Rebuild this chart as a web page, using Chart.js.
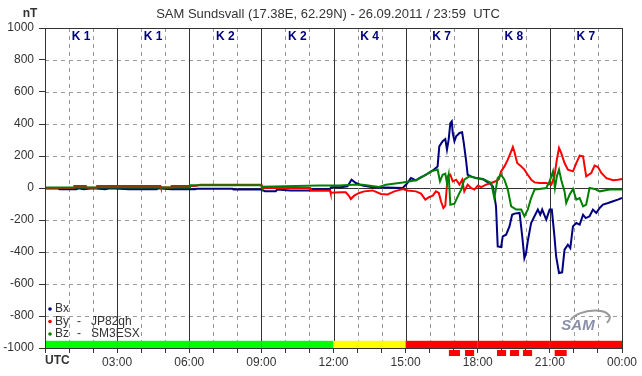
<!DOCTYPE html>
<html lang="en">
<head>
<meta charset="UTF-8"/>
<title>SAM Sundsvall – 26.09.2011</title>
<script src="https://cdn.jsdelivr.net/npm/chart.js@4"></script>
<style>
  body{margin:0;padding:0;background:#fff;}
  #wrap{width:642px;height:376px;}
</style>
</head>
<body>
<div id="wrap"><canvas id="magChart" width="642" height="376"></canvas></div>
<script>
  // time in hours UTC, values in nT
  const bxT=[0,0.55,0.6,1.3,1.4,1.6,2.0,2.5,2.7,3.5,4.65,4.7,5.25,6.25,6.3,7.8,7.85,9.0,9.15,9.6,9.65,10.2,11.0,11.05,11.85,11.9,12.3,12.58,12.75,12.93,13.21,13.63,14.18,14.88,15.04,15.22,15.43,15.57,15.85,16.13,16.33,16.4,16.54,16.65,16.72,16.79,16.86,16.92,16.96,17.03,17.1,17.17,17.24,17.35,17.42,17.51,17.58,17.72,17.93,18.21,18.35,18.49,18.63,18.76,18.83,18.97,19.04,19.18,19.32,19.43,19.53,19.74,19.85,19.94,20.01,20.08,20.22,20.36,20.5,20.6,20.68,20.85,20.99,21.08,21.19,21.26,21.38,21.51,21.61,21.75,21.85,21.96,22.1,22.24,22.38,22.49,22.65,22.79,22.93,23.07,23.21,23.42,23.63,23.83,24];
  const bxV=[-3,-3,-8,-8,-2,-8,-2,-8,-2,-8,-8,-2,-8,-8,-5,-5,-10,-10,-20,-20,-10,-15,-15,-8,-8,5,5,10,52,31,15,5,3,0,25,62,48,62,83,110,135,260,292,306,240,302,406,417,344,292,323,333,344,348,281,177,83,73,62,56,42,31,10,-115,-365,-369,-302,-292,-240,-167,-160,-156,-302,-438,-406,-333,-219,-177,-135,-167,-135,-198,-135,-135,-302,-427,-531,-527,-385,-354,-375,-240,-219,-229,-167,-188,-177,-135,-156,-125,-104,-94,-83,-73,-62];

  const byT=[0,1.2,1.22,1.7,1.72,2.15,2.17,4.8,4.82,5.25,5.27,6.25,6.45,9.0,9.02,11.03,11.05,11.86,11.88,12.3,12.51,12.65,12.72,12.86,13.07,13.28,13.63,13.97,14.25,14.53,14.88,15.08,15.43,15.64,15.82,15.99,16.13,16.26,16.38,16.47,16.57,16.65,16.75,16.86,16.96,17.1,17.24,17.35,17.44,17.58,17.72,17.86,18.0,18.14,18.35,18.56,18.74,18.88,18.97,19.11,19.25,19.39,19.46,19.53,19.64,19.81,19.94,20.08,20.22,20.36,20.57,20.85,21.06,21.19,21.29,21.38,21.47,21.61,21.75,21.96,22.1,22.24,22.38,22.51,22.72,22.86,23.0,23.14,23.35,23.63,23.83,24];
  const byV=[0,0,12,12,2,2,12,12,3,3,12,12,20,20,0,0,-17,-17,-30,-27,-27,-50,-69,-48,-31,-21,-15,-37,-40,-21,-6,-15,-21,-35,-73,-56,-48,-21,-31,-83,-125,-110,73,83,42,52,21,52,-21,21,0,-10,15,6,21,31,42,56,104,135,177,229,256,223,156,135,115,83,52,35,31,31,21,73,177,250,219,156,115,104,156,202,198,73,94,140,131,94,62,48,52,56];

  const bzT=[0,6.0,6.03,9.0,9.02,11.4,12.24,12.79,13.21,13.9,14.18,14.88,15.43,15.78,16.06,16.33,16.43,16.54,16.65,16.72,16.79,16.86,17.03,17.17,17.31,17.44,17.65,17.93,18.28,18.56,18.69,18.83,18.97,19.11,19.25,19.39,19.6,19.81,19.94,20.08,20.22,20.36,20.57,20.85,20.99,21.13,21.21,21.29,21.38,21.47,21.61,21.68,21.82,21.96,22.1,22.24,22.38,22.51,22.65,22.86,23.07,23.49,24];
  const bzV=[3,3,17,17,8,15,15,21,21,6,21,35,48,77,104,115,42,83,90,31,83,-104,-98,-52,-10,52,73,62,52,31,-63,62,83,52,-10,-115,-135,-135,-177,-135,-63,-10,-6,0,42,104,0,73,115,52,-21,-94,-42,-6,-73,-63,-115,-104,0,-6,-21,-10,-10];

  // K index per 3-hour block, alert periods (hours)
  const kIndex=[1,1,2,2,4,7,8,7];
  const alertFrom=[16.8,17.47,18.8,19.34,19.88,21.2];
  const alertTo=[17.26,17.85,19.18,19.72,20.26,21.7];

  const xLabels={0:'UTC',3:'03:00',6:'06:00',9:'09:00',12:'12:00',15:'15:00',18:'18:00',21:'21:00',24:'00:00'};
  const seriesNames=['Bx','By','Bz'];
  const seriesSources=['','JP82qh','SM3ESX'];
  const seriesColors=['#000080','#ff0000','#008000'];

  const titleText='SAM Sundsvall (17.38E, 62.29N) - 26.09.2011 / 23:59  UTC';
  const FONT='"Liberation Sans", Arial, sans-serif';

  const pts=(t,v)=>t.map((h,i)=>({x:h,y:v[i]}));
  const kColor=k=>k>=5?'#ff0000':(k>=4?'#ffff00':'#00ff00');

  const decor={
    id:'decor',
    beforeDatasetsDraw(chart){
      const {ctx,chartArea:a,scales:{x,y}}=chart;
      ctx.save();
      // horizontal grid
      for(let v=-800;v<=800;v+=200){
        const py=Math.round(y.getPixelForValue(v))+0.5;
        ctx.beginPath();
        ctx.setLineDash(v===0?[]:[4,4]);
        ctx.strokeStyle=v===0?'#333':'#999';
        ctx.lineWidth=1;
        ctx.moveTo(a.left,py);ctx.lineTo(a.right,py);ctx.stroke();
      }
      // vertical grid
      for(let h=1;h<24;h++){
        const px=Math.round(x.getPixelForValue(h))+0.5;
        ctx.beginPath();
        ctx.setLineDash(h%3===0?[]:[4,4]);
        ctx.strokeStyle=h%3===0?'#333':'#999';
        ctx.moveTo(px,a.top);ctx.lineTo(px,a.bottom);ctx.stroke();
      }
      ctx.setLineDash([]);
      // K bar along the bottom
      const bTop=y.getPixelForValue(-955), bBot=y.getPixelForValue(-1000);
      kIndex.forEach((k,i)=>{
        const x0=x.getPixelForValue(i*3), x1=x.getPixelForValue(i*3+3);
        ctx.fillStyle=kColor(k);
        ctx.fillRect(x0,bTop,x1-x0,bBot-bTop);
        ctx.fillStyle='#000080';
        ctx.font='bold 12px '+FONT;
        ctx.textAlign='center';ctx.textBaseline='middle';
        ctx.fillText('K '+k,(x0+x1)/2,a.top+9);
      });
      ctx.restore();
    },
    afterDraw(chart){
      const {ctx,chartArea:a,scales:{x,y}}=chart;
      ctx.save();
      // frame
      ctx.strokeStyle='#333';ctx.lineWidth=1;
      ctx.strokeRect(Math.round(a.left)+0.5,Math.round(a.top)+0.5,Math.round(a.right-a.left),Math.round(a.bottom-a.top));
      // alert marks under axis
      ctx.fillStyle='#ff0000';
      alertFrom.forEach((f,i)=>{
        const x0=x.getPixelForValue(f), x1=x.getPixelForValue(alertTo[i]);
        ctx.fillRect(x0,a.bottom+2,x1-x0,6);
      });
      // title and unit
      ctx.fillStyle='#333';
      ctx.textBaseline='middle';
      ctx.textAlign='center';
      ctx.font='13px '+FONT;
      ctx.fillText(titleText,328,14);
      ctx.font='bold 12px '+FONT;
      ctx.fillText('nT',30,14);
      // UTC label
      ctx.textAlign='left';
      ctx.fillText('UTC',a.left,361);
      // legend
      ctx.font='12px '+FONT;
      seriesNames.forEach((n,i)=>{
        const ly=309+i*12.5;
        ctx.fillStyle=seriesColors[i];
        ctx.beginPath();ctx.arc(a.left+5,ly,1.8,0,Math.PI*2);ctx.fill();
        ctx.fillStyle='#333';
        ctx.fillText(n,a.left+10,ly);
        if(seriesSources[i]){
          ctx.fillText('-',a.left+32,ly);
          ctx.fillText(seriesSources[i],a.left+46,ly);
        }
      });
      // logo
      ctx.strokeStyle='#999';ctx.lineWidth=2;
      ctx.beginPath();ctx.ellipse(590,320,20,9,-0.15,Math.PI*1.1,Math.PI*2.2);ctx.stroke();
      ctx.fillStyle='#8a8fa8';
      ctx.font='italic bold 15px '+FONT;
      ctx.textAlign='center';
      ctx.fillText('SAM',578,326);
      ctx.restore();
    }
  };

  new Chart(document.getElementById('magChart'),{
    type:'line',
    data:{datasets:[
      {label:'Bx',data:pts(bxT,bxV),borderColor:seriesColors[0],order:3},
      {label:'By',data:pts(byT,byV),borderColor:seriesColors[1],order:2},
      {label:'Bz',data:pts(bzT,bzV),borderColor:seriesColors[2],order:1}
    ]},
    options:{
      responsive:false,animation:false,
      layout:{padding:{top:28,right:20,left:0,bottom:0}},
      elements:{point:{radius:0},line:{borderWidth:2,tension:0}},
      plugins:{legend:{display:false},tooltip:{enabled:false}},
      scales:{
        x:{type:'linear',min:0,max:24,
          afterFit:s=>{s.height=28;},
          border:{display:true,color:'#333'},
          grid:{drawOnChartArea:false,drawTicks:true,tickLength:5,color:'#333'},
          ticks:{stepSize:1,autoSkip:false,maxRotation:0,padding:2,color:'#333',
            font:{family:FONT,size:12},
            callback:v=>(v in xLabels && v!==0)?xLabels[v]:''}},
        y:{min:-1000,max:1000,
          afterFit:s=>{s.width=45;},
          border:{display:true,color:'#333'},
          grid:{drawOnChartArea:false,drawTicks:true,tickLength:6,color:'#333'},
          ticks:{stepSize:200,padding:5,color:'#333',font:{family:FONT,size:12},
            callback:v=>String(v)}}
      }
    },
    plugins:[decor]
  });
</script>
</body>
</html>
